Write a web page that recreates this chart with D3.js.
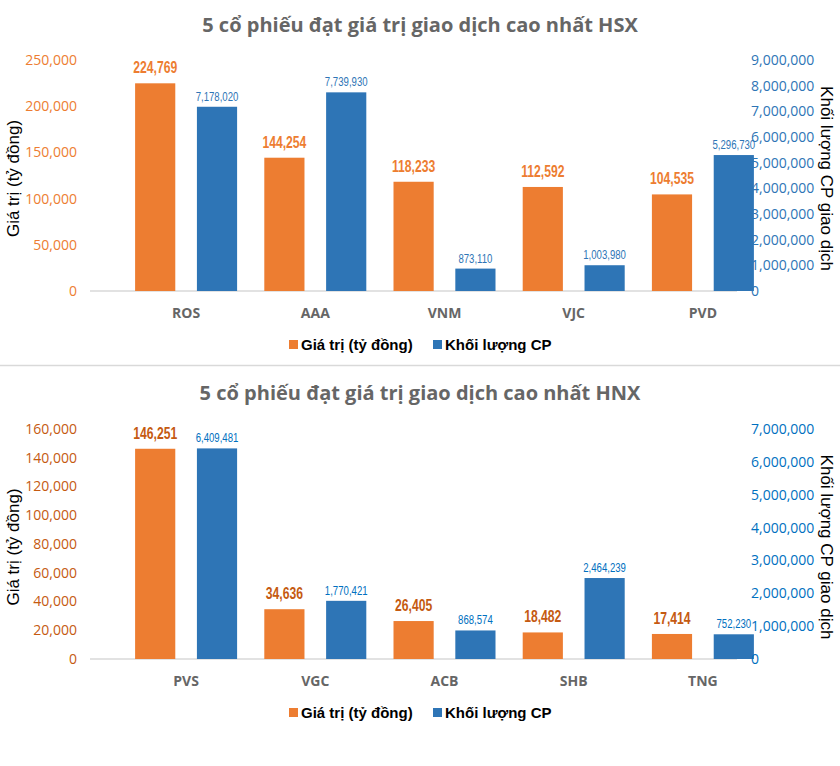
<!DOCTYPE html>
<html>
<head>
<meta charset="utf-8">
<script src="https://cdn.jsdelivr.net/npm/d3@7/dist/d3.min.js"></script>
<style>
  html, body { margin: 0; padding: 0; background: #fff; }
  svg { display: block; }
</style>
</head>
<body>
<svg id="chart" width="840" height="766"></svg>
<script>
// ---------- DATA ----------
const hsxCategories = ["ROS", "AAA", "VNM", "VJC", "PVD"];
const hsxValue = [224769, 144254, 118233, 112592, 104535];
const hsxVolume = [7178020, 7739930, 873110, 1003980, 5296730];
const hsxLeftTicks = [0, 50000, 100000, 150000, 200000, 250000];
const hsxRightTicks = [0, 1000000, 2000000, 3000000, 4000000, 5000000, 6000000, 7000000, 8000000, 9000000];

const hnxCategories = ["PVS", "VGC", "ACB", "SHB", "TNG"];
const hnxValue = [146251, 34636, 26405, 18482, 17414];
const hnxVolume = [6409481, 1770421, 868574, 2464239, 752230];
const hnxLeftTicks = [0, 20000, 40000, 60000, 80000, 100000, 120000, 140000, 160000];
const hnxRightTicks = [0, 1000000, 2000000, 3000000, 4000000, 5000000, 6000000, 7000000];

const seriesNames = ["Giá trị (tỷ đồng)", "Khối lượng CP"];
const leftAxisTitle = "Giá trị (tỷ đồng)";
const rightAxisTitle = "Khối lượng CP giao dịch";
const titleHSX = "5 cổ phiếu đạt giá trị giao dịch cao nhất HSX";
const titleHNX = "5 cổ phiếu đạt giá trị giao dịch cao nhất HNX";

// ---------- DRAW ----------
const svg = d3.select("#chart");
const fmt = d3.format(",");
const ORANGE = "#ED7D31", BLUE = "#2E75B6";

function drawChart(o) {
  const g = svg.append("g").attr("transform", `translate(0,${o.offsetY})`);
  const x0 = 90, x1 = 737;
  const yTop = o.yTop, yBot = o.yBot;

  g.append("text").attr("x", 420).attr("y", 32)
    .attr("text-anchor", "middle")
    .style("font-family", "'Open Sans', sans-serif").style("font-weight", "bold")
    .style("font-size", "20px").attr("fill", "#666666")
    .text(o.title);

  const x = d3.scaleBand().domain(o.categories).range([121.5, 767.5]);
  const xs = d3.scaleBand().domain(["value", "volume"]).range([-51, 51]).paddingInner(0.35);
  const yL = d3.scaleLinear().domain([0, o.leftMax]).range([yBot, yTop]);
  const yR = d3.scaleLinear().domain([0, o.rightMax]).range([yBot, yTop]);

  // baseline
  g.append("line").attr("x1", x0).attr("x2", x1).attr("y1", yBot).attr("y2", yBot)
    .attr("stroke", "#d9d9d9").attr("stroke-width", 1.5);

  // left axis
  const la = g.append("g").attr("transform", `translate(77,0)`)
    .call(d3.axisLeft(yL).tickValues(o.leftTicks).tickFormat(fmt).tickSize(0).tickPadding(0));
  la.select(".domain").remove();
  la.selectAll("text").style("font-family", "'Open Sans', sans-serif")
    .style("font-size", "14px").attr("fill", o.leftTickColor);

  // bars
  const rows = o.categories.map((c, i) => ({ c, v: o.value[i], q: o.volume[i] }));
  g.selectAll(".bv").data(rows).join("rect")
    .attr("x", d => x(d.c) + x.bandwidth() / 2 + xs("value"))
    .attr("width", xs.bandwidth())
    .attr("y", d => yL(d.v)).attr("height", d => yBot - yL(d.v))
    .attr("fill", ORANGE);
  g.selectAll(".bq").data(rows).join("rect")
    .attr("x", d => x(d.c) + x.bandwidth() / 2 + xs("volume"))
    .attr("width", xs.bandwidth())
    .attr("y", d => yR(d.q)).attr("height", d => yBot - yR(d.q))
    .attr("fill", BLUE);

  // right axis
  const ra = g.append("g").attr("transform", `translate(751,0)`)
    .call(d3.axisRight(yR).tickValues(o.rightTicks).tickFormat(fmt).tickSize(0).tickPadding(0));
  ra.select(".domain").remove();
  ra.selectAll("text").style("font-family", "'Open Sans', sans-serif")
    .style("font-size", "14px").attr("fill", o.rightTickColor);

  // labels (condensed look)
  g.selectAll(".lv").data(rows).join("text")
    .attr("transform", d => `translate(${x(d.c) + x.bandwidth() / 2 + xs("value") + xs.bandwidth() / 2},${yL(d.v) - 10}) scale(0.76,1)`)
    .attr("text-anchor", "middle")
    .style("font-family", "'Liberation Sans', Arial, sans-serif")
    .style("font-weight", "bold").style("font-size", "16px")
    .attr("fill", o.valueLabelColor).text(d => fmt(d.v));
  g.selectAll(".lq").data(rows).join("text")
    .attr("transform", d => `translate(${x(d.c) + x.bandwidth() / 2 + xs("volume") + xs.bandwidth() / 2},${yR(d.q) - 6}) scale(0.8,1)`)
    .attr("text-anchor", "middle")
    .style("font-family", "'Liberation Sans', Arial, sans-serif")
    .style("font-size", "12px")
    .attr("fill", o.volumeLabelColor).text(d => fmt(d.q));

  // category axis
  const ca = g.append("g").attr("transform", `translate(0,${yBot})`)
    .call(d3.axisBottom(x).tickSize(0).tickPadding(0));
  ca.select(".domain").remove();
  ca.selectAll("text").attr("dy", 0).attr("y", 27)
    .style("font-family", "'Open Sans', sans-serif").style("font-weight", "bold")
    .style("font-size", "14px").attr("fill", "#666666");

  // axis titles
  const cy = (yTop + yBot) / 2 + 3;
  g.append("text").attr("transform", `translate(19,${cy}) rotate(-90)`)
    .attr("text-anchor", "middle")
    .style("font-family", "'Liberation Sans', Arial, sans-serif").style("font-size", "17px")
    .attr("fill", "#000").text(leftAxisTitle);
  g.append("text").attr("transform", `translate(821,${cy}) rotate(90)`)
    .attr("text-anchor", "middle")
    .style("font-family", "'Liberation Sans', Arial, sans-serif").style("font-size", "17px")
    .attr("fill", "#000").text(rightAxisTitle);

  // legend
  const ly = o.legendY;
  const leg = [
    { name: seriesNames[0], color: ORANGE, x: 289 },
    { name: seriesNames[1], color: BLUE, x: 433 }
  ];
  leg.forEach(l => {
    g.append("rect").attr("x", l.x).attr("y", ly - 5).attr("width", 9).attr("height", 9).attr("fill", l.color);
    g.append("text").attr("x", l.x + 12).attr("y", ly + 5)
      .style("font-family", "'Liberation Sans', Arial, sans-serif").style("font-weight", "bold")
      .style("font-size", "15px").attr("fill", "#000").text(l.name);
  });
}

drawChart({
  offsetY: 0, title: titleHSX, categories: hsxCategories, value: hsxValue, volume: hsxVolume,
  leftTicks: hsxLeftTicks, rightTicks: hsxRightTicks, leftMax: 250000, rightMax: 9000000,
  yTop: 60, yBot: 291, legendY: 345,
  leftTickColor: ORANGE, rightTickColor: BLUE, valueLabelColor: ORANGE, volumeLabelColor: BLUE
});

svg.append("line").attr("x1", 0).attr("x2", 840).attr("y1", 365.5).attr("y2", 365.5)
  .attr("stroke", "#d9d9d9").attr("stroke-width", 1.5);

drawChart({
  offsetY: 368, title: titleHNX, categories: hnxCategories, value: hnxValue, volume: hnxVolume,
  leftTicks: hnxLeftTicks, rightTicks: hnxRightTicks, leftMax: 160000, rightMax: 7000000,
  yTop: 61, yBot: 291, legendY: 345,
  leftTickColor: "#C55A11", rightTickColor: "#0070C0", valueLabelColor: "#C55A11", volumeLabelColor: "#0070C0"
});
</script>
</body>
</html>
